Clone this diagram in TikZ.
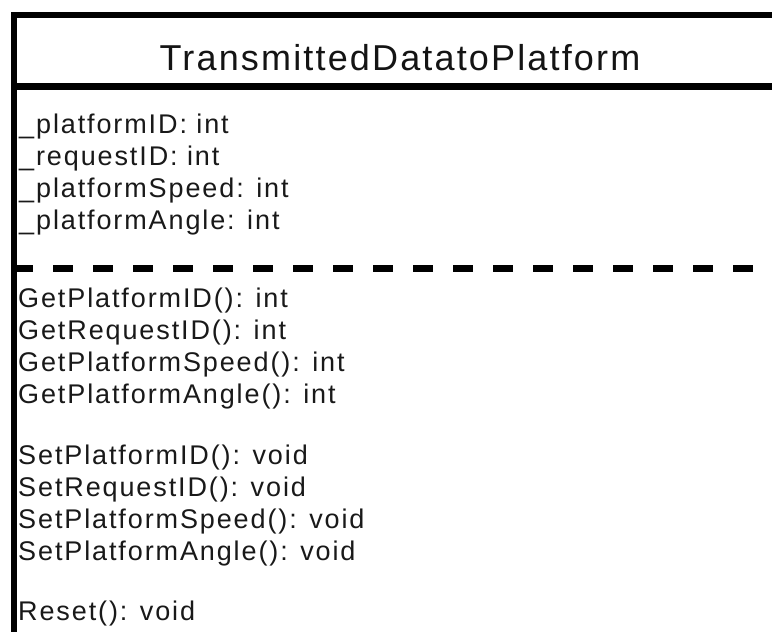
\documentclass[tikz,border=0pt]{standalone}
\usepackage{fontspec}
\setmainfont[LetterSpace=6]{Liberation Sans}
\newfontfamily\memberfont[LetterSpace=7]{Liberation Sans}
\begin{document}
\begin{tikzpicture}[x=1pt,y=-1pt,
  rule/.style={draw=black, line width=6.5pt, line join=miter, line cap=butt},
  opsplit/.style={draw=black, line width=7pt, dash pattern=on 20pt off 20pt},
  title/.style={anchor=base, inner sep=0pt, text=black!92, font=\fontsize{36}{40}\selectfont},
  member/.style={anchor=base west, inner sep=0pt, text=black!90, font=\memberfont\fontsize{27}{31}\selectfont}]
  % canvas
  \useasboundingbox (0,0) rectangle (772,632);
  \fill[white] (0,0) rectangle (772,632);

  % class frame: open on the right and at the bottom
  \draw[rule] (14,632) -- (14,15) -- (772,15);
  \draw[rule] (14,86.5) -- (772,86.5);
  \draw[opsplit] (13,268.5) -- (772,268.5);

  % class name
  \node[title] (cname) at (400,70) {TransmittedDatatoPlatform};

  % attributes
  \node[member] (a1) at (19,133) {\_platformID: int};
  \node[member] (a2) at (19,165) {\_requestID: int};
  \node[member] (a3) at (19,197) {\_platformSpeed: int};
  \node[member] (a4) at (19,229) {\_platformAngle: int};

  % getters
  \node[member] (g1) at (18,307) {GetPlatformID(): int};
  \node[member] (g2) at (18,339) {GetRequestID(): int};
  \node[member] (g3) at (18,371) {GetPlatformSpeed(): int};
  \node[member] (g4) at (18,403) {GetPlatformAngle(): int};

  % setters
  \node[member] (s1) at (18,464) {SetPlatformID(): void};
  \node[member] (s2) at (18,496) {SetRequestID(): void};
  \node[member] (s3) at (18,528) {SetPlatformSpeed(): void};
  \node[member] (s4) at (18,560) {SetPlatformAngle(): void};

  % reset
  \node[member] (r1) at (18,620) {Reset(): void};
\end{tikzpicture}
\end{document}
